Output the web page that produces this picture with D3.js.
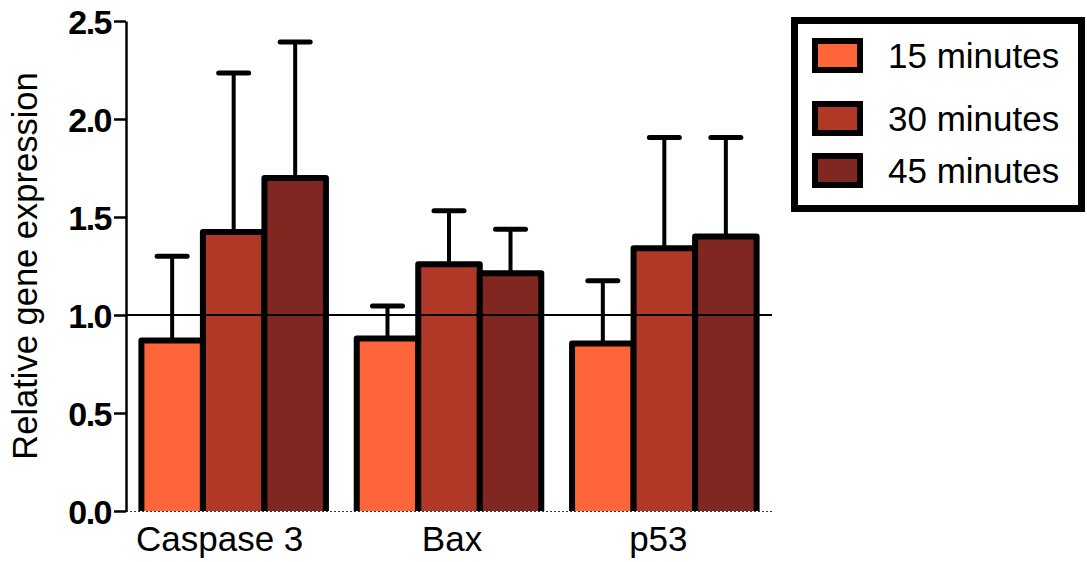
<!DOCTYPE html>
<html>
<head>
<meta charset="utf-8">
<script src="https://cdn.jsdelivr.net/npm/d3@7"></script>
<style>
  html, body { margin: 0; padding: 0; background: #fff; }
  svg { display: block; font-family: "Liberation Sans", Arial, sans-serif; }
</style>
</head>
<body>
<svg id="chart" width="1087" height="562"></svg>
<script>
// Gene expression data: three genes measured at three time points
const genes = ["Caspase 3", "Bax", "p53"];
const timepoints = ["15 minutes", "30 minutes", "45 minutes"];
const mean15 = [0.87, 0.88, 0.855];
const mean30 = [1.423, 1.259, 1.34];
const mean45 = [1.699, 1.213, 1.401];
const upper15 = [1.30, 1.046, 1.175];
const upper30 = [2.235, 1.532, 1.906];
const upper45 = [2.393, 1.437, 1.906];
const yTicks = [0, 0.5, 1.0, 1.5, 2.0, 2.5];
const referenceLevel = 1.0;
const colors = ["#FF653A", "#B03826", "#7F2720"];

const means = [mean15, mean30, mean45];
const uppers = [upper15, upper30, upper45];

const svg = d3.select("#chart");

const plot = { left: 126, right: 772, top: 21, bottom: 511 };
// horizontal nudge of each category label relative to its group centre
const labelNudge = [-14, 3, -6];

const y = d3.scaleLinear().domain([0, 2.5]).range([plot.bottom, plot.top]);
const x0 = d3.scaleBand().domain(genes).range([plot.left, plot.right])
  .paddingInner(0.143).paddingOuter(0.0715);
const x1 = d3.scaleBand().domain(timepoints).range([0, x0.bandwidth()]).padding(0);

// Rows of bar records
const records = [];
genes.forEach((g, gi) => {
  timepoints.forEach((t, ti) => {
    records.push({ gene: g, time: t, ti, value: means[ti][gi], upper: uppers[ti][gi] });
  });
});

// Error bars (upper only), drawn beneath the bars
const err = svg.append("g").attr("class", "errors");
records.forEach(d => {
  const cx = x0(d.gene) + x1(d.time) + x1.bandwidth() / 2;
  err.append("line")
    .attr("x1", cx).attr("x2", cx)
    .attr("y1", y(d.value)).attr("y2", y(d.upper))
    .attr("stroke", "#000").attr("stroke-width", 4);
  err.append("line")
    .attr("x1", cx - 15).attr("x2", cx + 15)
    .attr("y1", y(d.upper)).attr("y2", y(d.upper))
    .attr("stroke", "#000").attr("stroke-width", 5).attr("stroke-linecap", "round");
});

// Bars: open outline (no bottom edge)
const bars = svg.append("g").attr("class", "bars");
records.forEach(d => {
  const xl = x0(d.gene) + x1(d.time);
  const xr = xl + x1.bandwidth();
  const yt = y(d.value), yb = y(0);
  bars.append("path")
    .attr("d", `M${xl},${yb}L${xl},${yt}L${xr},${yt}L${xr},${yb}`)
    .attr("fill", colors[d.ti])
    .attr("stroke", "#000")
    .attr("stroke-width", 6)
    .attr("stroke-linejoin", "round");
});

// Reference line at 1.0
svg.append("line")
  .attr("x1", plot.left).attr("x2", plot.right)
  .attr("y1", y(referenceLevel)).attr("y2", y(referenceLevel))
  .attr("stroke", "#000").attr("stroke-width", 2);

// Baseline (dotted)
svg.append("line")
  .attr("x1", plot.left).attr("x2", plot.right)
  .attr("y1", y(0) + 0.5).attr("y2", y(0) + 0.5)
  .attr("stroke", "#333").attr("stroke-width", 1.2)
  .attr("stroke-dasharray", "2,2");

// Y axis
const yAxis = svg.append("g")
  .attr("transform", `translate(${plot.left},0)`)
  .call(d3.axisLeft(y).tickValues(yTicks).tickFormat(d3.format(".1f")).tickSize(12).tickSizeOuter(0));
yAxis.select(".domain").attr("stroke", "#000").attr("stroke-width", 2.5);
yAxis.selectAll(".tick line").attr("stroke", "#000").attr("stroke-width", 2.5);
yAxis.selectAll(".tick text")
  .attr("x", -15)
  .attr("dy", "0.36em")
  .attr("fill", "#000")
  .style("font-family", "'Liberation Sans', Arial, sans-serif")
  .style("font-size", "34px")
  .style("font-weight", "bold")
  .style("letter-spacing", "-1.5px");

// Category labels
svg.append("g").selectAll("text")
  .data(genes)
  .join("text")
  .attr("x", (d, i) => x0(d) + x0.bandwidth() / 2 + labelNudge[i])
  .attr("y", 551)
  .attr("text-anchor", "middle")
  .style("font-size", "35px")
  .attr("fill", "#000")
  .text(d => d);

// Y axis title
svg.append("text")
  .attr("transform", `translate(37,${(plot.top + plot.bottom) / 2}) rotate(-90)`)
  .attr("text-anchor", "middle")
  .style("font-size", "34.5px")
  .attr("fill", "#000")
  .text("Relative gene expression");

// Legend
const legend = svg.append("g").attr("class", "legend");
legend.append("rect")
  .attr("x", 794.5).attr("y", 20.5).attr("width", 287).attr("height", 188)
  .attr("fill", "#fff").attr("stroke", "#000").attr("stroke-width", 7);
const rowTops = [38, 101, 153];
timepoints.forEach((t, i) => {
  legend.append("rect")
    .attr("x", 815).attr("y", rowTops[i] + 3).attr("width", 45).attr("height", 29)
    .attr("fill", colors[i]).attr("stroke", "#000").attr("stroke-width", 6);
  legend.append("text")
    .attr("x", 888).attr("y", rowTops[i] + 30)
    .style("font-size", "35px")
    .attr("fill", "#000")
    .text(t);
});
</script>
</body>
</html>
